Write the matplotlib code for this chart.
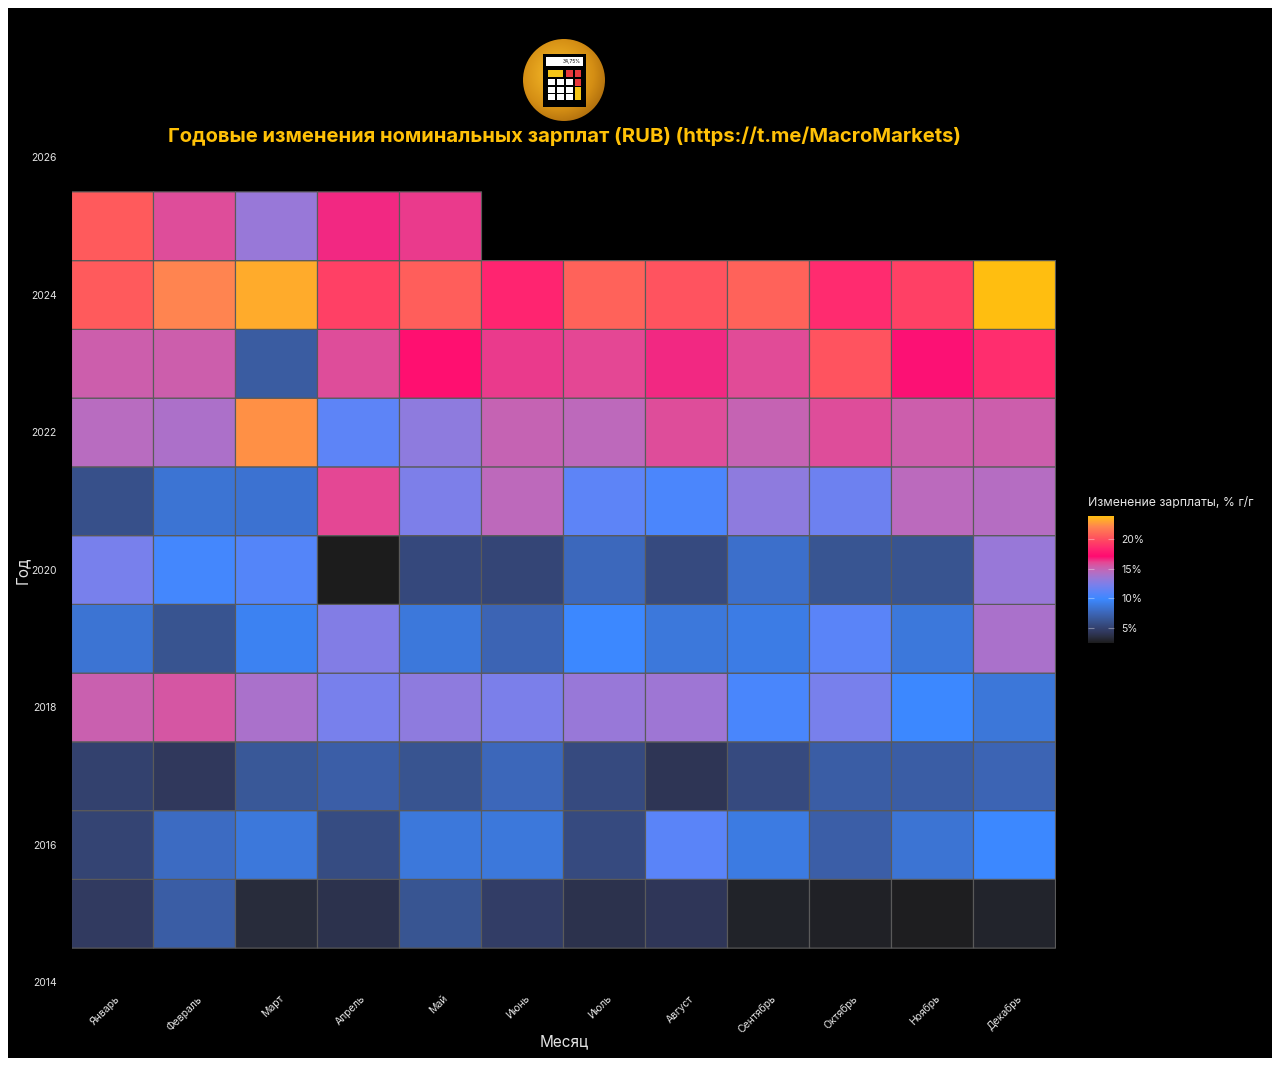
import numpy as np
import matplotlib
matplotlib.use("Agg")
import matplotlib.pyplot as plt
from matplotlib.colors import LinearSegmentedColormap, Normalize
from matplotlib.patches import Circle, Rectangle

plt.rcParams['font.family'] = ['Inter', 'DejaVu Sans']

months = ["Январь", "Февраль", "Март", "Апрель", "Май", "Июнь", "Июль", "Август", "Сентябрь", "Октябрь", "Ноябрь", "Декабрь"]
years = [2015, 2016, 2017, 2018, 2019, 2020, 2021, 2022, 2023, 2024]
y2015 = [4.5, 6.9, 3.4, 3.9, 6.3, 4.7, 3.9, 4.2, 2.9, 2.8, 2.65, 3.0]
y2016 = [5.2, 7.9, 8.8, 5.7, 8.8, 8.8, 5.6, 11.1, 9.0, 7.0, 8.5, 9.9]
y2017 = [5.0, 4.3, 6.5, 7.0, 6.2, 7.6, 5.6, 4.1, 5.6, 6.9, 6.9, 7.4]
y2018 = [15.2, 15.6, 14.0, 12.2, 13.0, 12.3, 13.4, 13.6, 10.4, 12.2, 9.9, 8.7]
y2019 = [8.5, 6.2, 9.5, 12.6, 8.8, 7.4, 9.9, 8.8, 9.1, 11.1, 8.8, 14.0]
y2020 = [12.2, 10.2, 10.9, 2.5, 5.5, 5.3, 7.7, 5.6, 8.2, 6.3, 6.2, 13.4]
y2021 = [6.0, 8.5, 8.4, 16.1, 12.4, 14.7, 11.2, 10.5, 13.0, 11.8, 14.6, 14.4]
y2022 = [14.5, 14.1, 22.4, 11.2, 13.0, 15.0, 14.7, 15.9, 15.0, 15.9, 15.3, 15.3]
y2023 = [15.3, 15.3, 6.8, 15.9, 17.3, 16.3, 16.1, 16.6, 16.0, 20.2, 17.0, 18.7]
y2024 = [20.5, 22.1, 23.2, 19.5, 20.6, 18.3, 20.8, 20.2, 20.8, 18.6, 19.5, 23.9]
y2025 = [20.5, 15.9, 13.4, 16.6, 16.3]
year_ticks = [2014, 2016, 2018, 2020, 2022, 2024, 2026]
cbar_ticks = [5, 10, 15, 20]
vmin, vmax = 2.5, 23.9
scale_values = [2.5, 3.4, 4.3, 5.2, 6.2, 7.4, 8.8, 9.9, 11.1, 12.2, 13.4, 14.5, 15.3, 16.1, 17.1, 18.5, 19.5, 20.5, 22.1, 23.2, 23.9]
scale_colors = ["#1c1c1c", "#282c3c", "#30385c", "#344474", "#385490", "#3c64b4", "#3c78dc", "#3c88ff",
                "#5a84f8", "#7880ec", "#9878d8", "#b86cc0", "#cc5eac", "#e44894", "#ff0a70", "#ff2870",
                "#ff4065", "#ff5a5c", "#ff8450", "#ffaa2c", "#ffbe10"]

W, H = 1280, 1066
Z = np.array([y2015, y2016, y2017, y2018, y2019, y2020, y2021, y2022, y2023, y2024])
cmap = LinearSegmentedColormap.from_list(
    "m", [((v - vmin) / (vmax - vmin), c) for v, c in zip(scale_values, scale_colors)], N=512)
norm = Normalize(vmin, vmax)
TXT = "#e4e4e4"
GRID = "#5a5a5a"

def box(l, t, r, b):
    return [l / W, 1 - b / H, (r - l) / W, (b - t) / H]

fig = plt.figure(figsize=(12.8, 10.66), dpi=100, facecolor="white")
fig.add_artist(Rectangle((8 / W, 1 - 1058 / H), 1264 / W, 1050 / H, transform=fig.transFigure, fc="black", ec="none", zorder=-5))

ax = fig.add_axes(box(71.5, 157.5, 1055.5, 982.5))
ax.patch.set_alpha(0)
xe = np.arange(len(months) + 1) - 0.5
ye = np.arange(years[0] - 0.5, years[-1] + 1)
m1 = ax.pcolormesh(xe, ye, Z, cmap=cmap, norm=norm, edgecolors=GRID, linewidth=0.85, antialiased=True)
m2 = ax.pcolormesh(xe[:len(y2025) + 1], [2024.5, 2025.5], np.array([y2025]), cmap=cmap, norm=norm, edgecolors=GRID, linewidth=0.85, antialiased=True)
m1.set_snap(False)
m2.set_snap(False)
ax.set_xlim(-0.5, 11.5)
ax.set_ylim(2014, 2026)
ax.set_xticks(range(12))
ax.set_xticklabels([])
for i, m in enumerate(months):
    ax.annotate(m, xy=(i, 0), xycoords=ax.get_xaxis_transform(), xytext=(4, -10.5), textcoords="offset points",
                rotation=45, ha="right", va="center", rotation_mode="anchor", color=TXT, fontsize=7.5,
                annotation_clip=False)
ax.set_yticks(year_ticks)
ax.set_yticklabels(year_ticks, color=TXT, fontsize=7.5)
ax.tick_params(axis="x", length=0)
ax.tick_params(axis="y", length=0, pad=10.5)
for s in ax.spines.values():
    s.set_visible(False)
fig.text(564 / W, 1 - 1041.5 / H, "Месяц", color=TXT, fontsize=11, ha="center", va="center")
fig.text(22 / W, 1 - 570 / H, "Год", color=TXT, fontsize=11, rotation=90, ha="center", va="center")
fig.text(564 / W, 1 - 136 / H, "Годовые изменения номинальных зарплат (RUB) (https://t.me/MacroMarkets)",
         color="#FFC107", fontsize=14.55, fontweight="bold", ha="center", va="center")

cax = fig.add_axes(box(1088, 516, 1114, 643))
cb = fig.colorbar(plt.cm.ScalarMappable(norm=norm, cmap=cmap), cax=cax)
cb.outline.set_visible(False)
cb.set_ticks(cbar_ticks)
cb.set_ticklabels([f"{t}%" for t in cbar_ticks])
cax.tick_params(axis="y", direction="in", left=True, right=True, length=4, width=0.8,
                color=(1, 1, 1, 0.35), labelcolor=TXT, labelsize=7.5, pad=5.5)
fig.text(1088 / W, 1 - 502.5 / H, "Изменение зарплаты, % г/г", color=TXT, fontsize=8.8, ha="left", va="center")

# logo
lg = fig.add_axes(box(522, 38, 606, 122))
lg.set_xlim(0, 84); lg.set_ylim(84, 0); lg.axis("off")
yy, xx = np.mgrid[0:84:200j, 0:84:200j]
r = np.hypot(xx - 36, yy - 36) / 54
gold = LinearSegmentedColormap.from_list("g", ["#f2b82a", "#e8a820", "#d48e14", "#a8680c"])
im = lg.imshow(r, extent=(0, 84, 84, 0), cmap=gold, vmin=0, vmax=1, zorder=1, aspect="auto")
im.set_clip_path(Circle((42, 42), 41, transform=lg.transData))
lg.add_patch(Rectangle((21, 16), 43, 53, fc="black", zorder=2))
lg.add_patch(Rectangle((24, 19), 37, 9, fc="white", zorder=3))
lg.text(59, 23.5, "34,75%", fontsize=3.5, color="black", ha="right", va="center", zorder=4)
lg.add_patch(Rectangle((26, 32), 15, 7, fc="#f5c518", zorder=3))
for (x, y) in [(44, 32), (52.5, 32), (52.5, 41)]:
    lg.add_patch(Rectangle((x, y), 6.5, 7, fc="#e8383c", zorder=3))
for x in (26, 35, 44):
    for y in (41, 49, 56):
        lg.add_patch(Rectangle((x, y), 6.5, 6.2, fc="white", zorder=3))
lg.add_patch(Rectangle((52.5, 49), 6.5, 13.2, fc="#f5c518", zorder=3))

fig.savefig("out.png", dpi=100, facecolor="white")
